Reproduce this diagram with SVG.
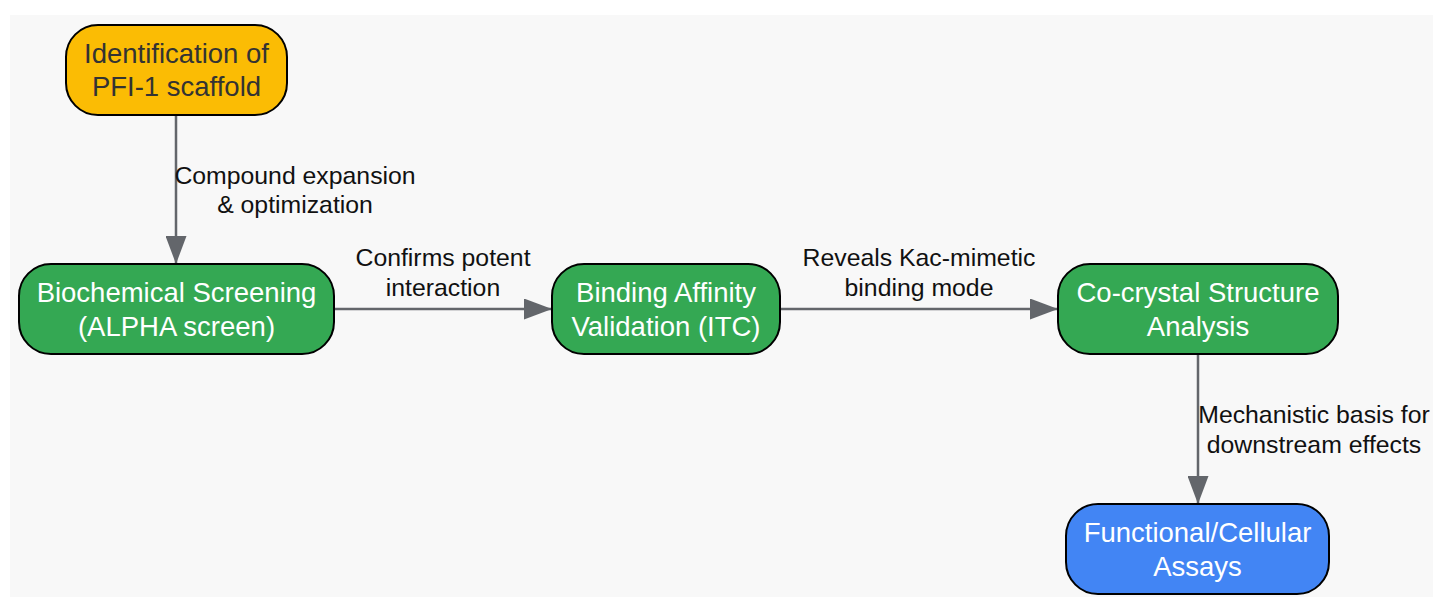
<svg xmlns="http://www.w3.org/2000/svg" width="1433" height="597" viewBox="0 0 1433 597">
<defs>
<style>
.node rect{stroke:#000;stroke-width:2}
.nt{font-family:"Liberation Sans",Arial,sans-serif;font-size:27.5px;text-anchor:middle}
.lt{font-family:"Liberation Sans",Arial,sans-serif;font-size:24.8px;text-anchor:middle;fill:#111}
.edge{stroke:#63666b;stroke-width:2.5;fill:none}
</style>
<marker id="arr" viewBox="0 0 28 21" refX="28" refY="10.5" markerWidth="28" markerHeight="21" markerUnits="userSpaceOnUse" orient="auto">
<path d="M0,0 L28,10.5 L0,21 Z" fill="#63666b"/>
</marker>
</defs>
<rect x="0" y="0" width="1433" height="597" fill="#ffffff"/>
<rect x="10" y="15" width="1423" height="582" fill="#f8f8f8"/>
<g id="connectors">
<line class="edge" x1="176" y1="115" x2="176" y2="264" marker-end="url(#arr)"/>
<line class="edge" x1="334" y1="309" x2="552" y2="309" marker-end="url(#arr)"/>
<line class="edge" x1="780" y1="309" x2="1058" y2="309" marker-end="url(#arr)"/>
<line class="edge" x1="1198" y1="354" x2="1198" y2="504" marker-end="url(#arr)"/>
<text class="lt" x="295" y="184">Compound expansion</text>
<text class="lt" x="295" y="213">&amp; optimization</text>
<text class="lt" x="443" y="266">Confirms potent</text>
<text class="lt" x="443" y="296">interaction</text>
<text class="lt" x="919" y="266">Reveals Kac-mimetic</text>
<text class="lt" x="919" y="296">binding mode</text>
<text class="lt" x="1314" y="423">Mechanistic basis for</text>
<text class="lt" x="1314" y="453">downstream effects</text>
</g>
<g id="node-pfi1" class="node">
<rect x="66" y="25" width="221" height="90" rx="32" fill="#fbbc04"/>
<text class="nt" x="176.5" y="63" fill="#333333">Identification of</text>
<text class="nt" x="176.5" y="96" fill="#333333">PFI-1 scaffold</text>
</g>
<g id="node-biochem" class="node">
<rect x="19" y="264" width="315" height="90" rx="32" fill="#34a853"/>
<text class="nt" x="176.5" y="302" fill="#ffffff">Biochemical Screening</text>
<text class="nt" x="176.5" y="336" fill="#ffffff">(ALPHA screen)</text>
</g>
<g id="node-binding" class="node">
<rect x="552" y="264" width="228" height="90" rx="32" fill="#34a853"/>
<text class="nt" x="666" y="302" fill="#ffffff">Binding Affinity</text>
<text class="nt" x="666" y="336" fill="#ffffff">Validation (ITC)</text>
</g>
<g id="node-cocrystal" class="node">
<rect x="1058" y="264" width="280" height="90" rx="32" fill="#34a853"/>
<text class="nt" x="1198" y="302" fill="#ffffff">Co-crystal Structure</text>
<text class="nt" x="1198" y="336" fill="#ffffff">Analysis</text>
</g>
<g id="node-functional" class="node">
<rect x="1066" y="504" width="263" height="90" rx="32" fill="#4285f4"/>
<text class="nt" x="1197.5" y="542" fill="#ffffff">Functional/Cellular</text>
<text class="nt" x="1197.5" y="576" fill="#ffffff">Assays</text>
</g>
</svg>
